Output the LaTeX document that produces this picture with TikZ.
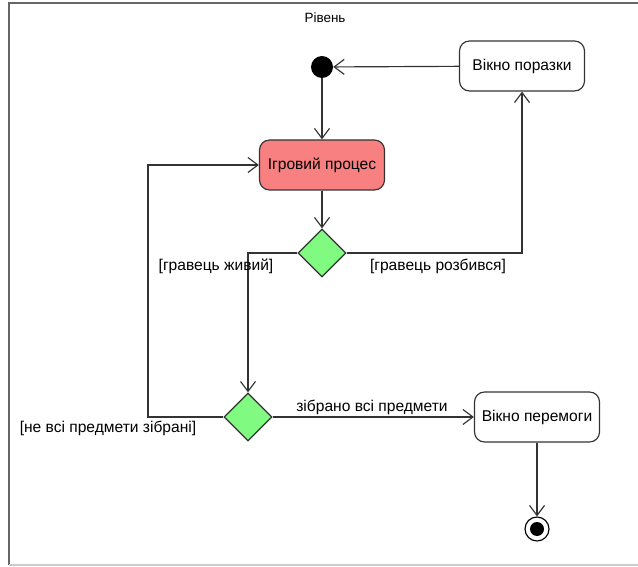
\documentclass[tikz,border=0pt]{standalone}
\usepackage{fontspec}
\setmainfont{Liberation Sans}
\usepackage{xcolor}
\usetikzlibrary{shapes.geometric,arrows.meta,positioning}

\definecolor{gamered}{RGB}{248,128,128}
\definecolor{decgreen}{RGB}{128,250,128}

\begin{document}
\begin{tikzpicture}[
    x=0.03cm, y=-0.03cm,
    font=\fontsize{13.3}{15}\selectfont,
    flow/.style={draw=black!80, line width=1pt, -{Straight Barb[length=3mm,width=4.5mm]}},
    state/.style={rectangle, rounded corners=0.3cm, draw=black!80, line width=1pt, minimum width=3.75cm, minimum height=1.5cm, fill=#1},
    state/.default=white,
    decision/.style={diamond, draw=black!80, line width=1pt, fill=decgreen, minimum width=1.44cm, minimum height=1.44cm, inner sep=0pt},
    guard/.style={inner sep=1pt}
]
    % Frame
    \useasboundingbox (0,0) rectangle (638,567);
    \draw[black!60, line width=1.4pt] (638,3) -- (9,3) -- (9,565);
    \draw[black!20, line width=1pt] (9,565) -- (638,565);
    \node[font=\fontsize{11.5}{13}\selectfont] (title) at (325,18) {Рівень};

    % States
    \node[circle, fill=black, minimum size=0.66cm, inner sep=0pt] (init) at (322,67) {};
    \node[state] (loss) at (522,66) {Вікно поразки};
    \node[state=gamered] (game) at (322,165) {Ігровий процес};
    \node[decision] (alive) at (322,253) {};
    \node[decision] (items) at (248,417) {};
    \node[state] (win) at (537,417) {Вікно перемоги};
    \node[circle, draw=black, line width=1pt, fill=white, minimum size=0.72cm, inner sep=0pt] (fin) at (537,529) {};
    \fill (fin.center) circle (0.21cm);
    \coordinate (back) at (148,417);

    % Transitions
    \draw[flow] (loss) -- (init);
    \draw[flow] (init) -- (game);
    \draw[flow] (game) -- (alive);
    \draw[flow] (alive.east) -| (loss.south);
    \draw[flow] (alive.west) -| (items.north);
    \draw[flow] (items.west) -- (back) |- (game.west);
    \draw[flow] (items.east) -- (win.west);
    \draw[flow] (win) -- (fin);

    % Guards
    \node[guard] (g1) at (216,266) {[гравець живий]};
    \node[guard] (g2) at (438,266) {[гравець розбився]};
    \node[guard] (g3) at (108,428) {[не всі предмети зібрані]};
    \node[guard] (g4) at (372,407) {зібрано всі предмети};
\end{tikzpicture}
\end{document}
